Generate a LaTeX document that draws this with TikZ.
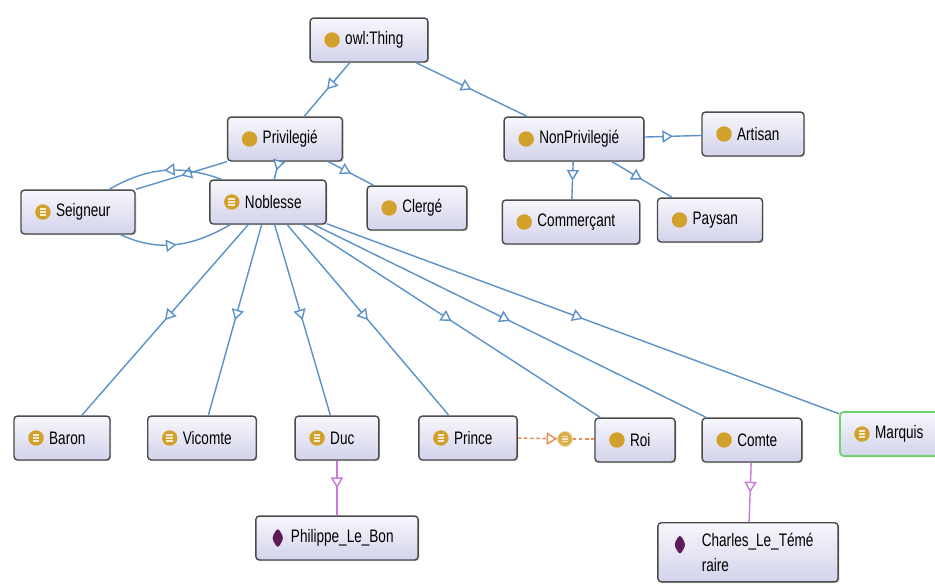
\documentclass[tikz,border=0pt]{standalone}
\usepackage{fontspec}
\setmainfont{Liberation Sans}[FakeStretch=0.75]
\usepackage{tikz}
\usetikzlibrary{arrows.meta,decorations.markings,shadows}

\definecolor{clsgold}{HTML}{D2A12B}
\definecolor{indpurple}{HTML}{5E1B5A}
\definecolor{isablue}{HTML}{5B93C9}
\definecolor{instviolet}{HTML}{C97BDB}
\definecolor{proporange}{HTML}{E98A4E}
\definecolor{boxtop}{HTML}{F7F7FC}
\definecolor{boxbot}{HTML}{D3D3EC}
\definecolor{boxline}{HTML}{4A4A4A}
\definecolor{selgreen}{HTML}{6CD66C}

\tikzset{
  ent/.style={draw=boxline, line width=0.8pt, rounded corners=2pt, top color=boxtop, bottom color=boxbot,
    minimum height=25pt, inner xsep=14pt, inner ysep=3pt, font=\fontsize{10.3}{14}\selectfont,
    drop shadow={shadow xshift=0.7pt, shadow yshift=-0.7pt, opacity=0.35},
    execute at begin node={\hspace*{6pt}}},
  cls/.style={ent, path picture={
    \fill[clsgold] ([xshift=12.5pt]path picture bounding box.west) circle (4.4pt);}},
  eqv/.style={ent, path picture={
    \fill[clsgold] ([xshift=12.5pt]path picture bounding box.west) circle (4.4pt);
    \foreach \dy in {-1.8pt,0pt,1.8pt}
      \draw[white!80!clsgold, line width=0.8pt] ([xshift=10.6pt,yshift=\dy]path picture bounding box.west) -- ++(3.8pt,0);}},
  ind/.style={ent, path picture={
    \fill[indpurple] ([xshift=12.5pt,yshift=-12.5pt]path picture bounding box.north west) ++(0,6pt)
      -- ++(3.5pt,-6pt) -- ++(-3.5pt,-6pt) -- ++(-3.5pt,6pt) -- cycle;}},
  sel/.style={draw=selgreen, line width=1pt},
  isa/.style={draw=isablue, line width=0.8pt, postaction={decorate},
    decoration={markings, mark=at position 0.5 with {\arrow{Triangle[fill=white, length=6pt, width=7pt]}}}},
  inst/.style={isa, draw=instviolet},
  prop/.style={draw=proporange, line width=0.8pt, dash pattern=on 2pt off 1.5pt},
  propicon/.style={circle, fill=clsgold!85, draw=white!60!clsgold, line width=0.4pt, minimum size=8.5pt, inner sep=0pt,
    path picture={
    \foreach \dy in {-1.6pt,0pt,1.6pt}
      \draw[white!75!clsgold, line width=0.6pt] ([xshift=-1.8pt,yshift=\dy]path picture bounding box.center) -- ++(3.6pt,0);}}
}

\begin{document}
\begin{tikzpicture}[x=0.02cm, y=-0.02cm]
          \path[use as bounding box, fill=white] (0,0) rectangle (935,583);

          \node[cls] (thing) at (369,40) {owl:Thing};
          \node[cls] (priv) at (285,139) {Privilegié};
          \node[cls] (nonpriv) at (574,139) {NonPrivilegié};
          \node[cls] (artisan) at (753,134) {Artisan};
          \node[eqv] (seig) at (78,212) {Seigneur};
          \node[eqv] (nob) at (268,202) {Noblesse};
          \node[cls] (clerge) at (417,208) {Clergé};
          \node[cls] (comm) at (571,222) {Commerçant};
          \node[cls] (paysan) at (710,220) {Paysan};

          \node[eqv] (baron) at (62,438) {Baron};
          \node[eqv] (vicomte) at (202,438) {Vicomte};
          \node[eqv] (duc) at (337,438) {Duc};
          \node[eqv] (prince) at (468,438) {Prince};
          \node[cls] (roi) at (635,440) {Roi};
          \node[cls] (comte) at (752,440) {Comte};
          \node[eqv, sel] (marquis) at (894,434) {Marquis};

          \node[ind] (philippe) at (337,538) {Philippe\_Le\_Bon};
          \node[ind, anchor=north, align=left, inner ysep=6pt, execute at begin node={}] (charles) at (748,522)
            {\hspace*{5pt}Charles\_Le\_Témé\\\hspace*{5pt}raire};

          \node[propicon] (roiprop) at (565,439) {};

          \draw[isa] (thing) -- (priv);
          \draw[isa] (thing) -- (nonpriv);
          \draw[isa] (nonpriv) -- (artisan);
          \draw[isa] (nonpriv) -- (comm);
          \draw[isa] (nonpriv) -- (paysan);
          \draw[isa] (priv) -- (nob);
          \draw[isa] (priv) -- (clerge);
          \draw[isa] (priv.south west) -- (seig.north east);
          \draw[isa] (nob.154) to[out=160, in=30] (seig.36);
          \draw[isa] (seig.-28) to[out=-25, in=-150] (nob.211);

          \draw[isa] (nob) -- (baron);
          \draw[isa] (nob) -- (vicomte);
          \draw[isa] (nob) -- (duc);
          \draw[isa] (nob) -- (prince);
          \draw[isa] (nob) -- (roi);
          \draw[isa] (nob) -- (comte);
          \draw[isa] (nob) -- (marquis);

          \draw[inst] (duc) -- (philippe);
          \draw[inst] (comte) -- (charles);

          \draw[prop, -{Triangle[fill=white, length=6pt, width=7pt, sep=0pt]}] (prince.east) -- (roiprop);
          \draw[prop] (roiprop) -- (roi.west |- roiprop);
        \end{tikzpicture}
\end{document}
